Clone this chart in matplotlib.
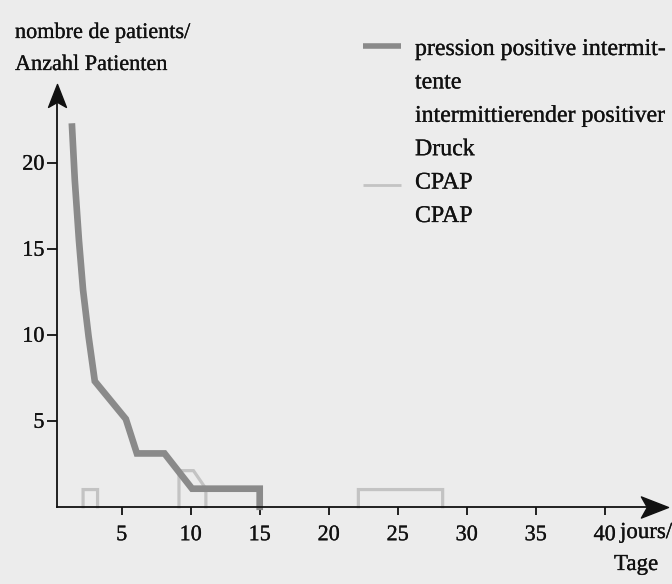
import numpy as np
import matplotlib
matplotlib.use("Agg")
import matplotlib.pyplot as plt
from matplotlib.path import Path
import matplotlib.patheffects as pe

# data
ippv_days = [1.4, 1.6, 1.9, 2.2, 2.6, 3.05, 5.3, 6.1, 8.1, 10.1, 15.0, 15.0]
ippv_pat = [22.1, 19.0, 15.5, 12.6, 9.9, 7.3, 5.1, 3.1, 3.1, 1.05, 1.05, 0.0]

cpap_days = [2.2, 2.2, 3.25, 3.25, np.nan, 9.15, 9.15, 10.2, 11.1, 11.1, np.nan, 22.15, 22.15, 28.26, 28.26]
cpap_pat = [0, 1, 1, 0, np.nan, 0, 2.1, 2.1, 1.05, 0, np.nan, 0, 1, 1, 0]

x_ticks = [5, 10, 15, 20, 25, 30, 35, 40]
y_ticks = [5, 10, 15, 20]

legend_ippv = ["pression positive intermit-", "tente", "intermittierender positiver", "Druck"]
legend_cpap = ["CPAP", "CPAP"]

plt.rcParams["font.family"] = ["Liberation Serif", "DejaVu Serif"]
bg = "#ececec"
ink = "#111111"
thick = [pe.withStroke(linewidth=0.2, foreground=ink)]

fig = plt.figure(figsize=(6.72, 5.84), dpi=100, facecolor=bg)
ax = fig.add_axes([0, 0, 1, 1], facecolor=bg)
ax.set_xlim(-3.82, 44.88)
ax.set_ylim(-4.49, 29.46)

x0, y0 = 0.31, 0.0
x_end, y_end = 44.6, 24.6

for s in ["top", "right"]:
    ax.spines[s].set_visible(False)
ax.spines["left"].set_position(("data", x0))
ax.spines["bottom"].set_position(("data", y0))
ax.spines["left"].set_bounds(y0, y_end - 1.2)
ax.spines["bottom"].set_bounds(x0, x_end - 1.2)
for s in ["left", "bottom"]:
    ax.spines[s].set_linewidth(1.3)
    ax.spines[s].set_color(ink)
    ax.spines[s].set_zorder(3)

# arrow heads (stealth shape)
head_r = Path([(0, 0), (-1, 0.39), (-0.78, 0), (-1, -0.39), (0, 0)],
              [Path.MOVETO, Path.LINETO, Path.LINETO, Path.LINETO, Path.CLOSEPOLY])
head_u = Path([(0, 0), (0.39, -1), (0, -0.78), (-0.39, -1), (0, 0)],
              [Path.MOVETO, Path.LINETO, Path.LINETO, Path.LINETO, Path.CLOSEPOLY])
ax.plot([x_end], [y0], marker=head_r, markersize=39, color=ink, zorder=4, clip_on=False)
ax.plot([x0], [y_end], marker=head_u, markersize=33, color=ink, zorder=4, clip_on=False)

ax.set_xticks(x_ticks)
ax.set_yticks(y_ticks)
ax.tick_params(axis="x", direction="out", length=6, width=1.3, pad=8, labelsize=16, colors=ink)
ax.tick_params(axis="y", direction="out", length=7, width=1.3, pad=2, labelsize=16, colors=ink)
for lab in ax.get_xticklabels() + ax.get_yticklabels():
    lab.set_path_effects(thick)

# series
ax.plot(cpap_days, cpap_pat, color="#c3c3c3", lw=2.3, solid_joinstyle="miter", zorder=2)
ax.plot(ippv_days, ippv_pat, color="#8a8a8a", lw=4.8, solid_joinstyle="miter", zorder=2.5)

# axis titles
ax.text(15 / 672, 1 - 38 / 584, "nombre de patients/", transform=ax.transAxes,
        fontsize=16, va="baseline", ha="left", color=ink, path_effects=thick)
ax.text(15 / 672, 1 - 70 / 584, "Anzahl Patienten", transform=ax.transAxes,
        fontsize=16, va="baseline", ha="left", color=ink, path_effects=thick)
ax.text(620 / 672, 1 - 538 / 584, "jours/", transform=ax.transAxes,
        fontsize=16.5, va="baseline", ha="left", color=ink, path_effects=thick)
ax.text(658 / 672, 1 - 570 / 584, "Tage", transform=ax.transAxes,
        fontsize=16.5, va="baseline", ha="right", color=ink, path_effects=thick)

# legend drawn by hand
lx0, lx1, tx = 363 / 672, 401 / 672, 415 / 672
base0, step = 55, 33.4
ax.plot([lx0, lx1], [1 - 46 / 584] * 2, transform=ax.transAxes, color="#8a8a8a", lw=4, solid_capstyle="butt")
ax.plot([lx0, lx1], [1 - 185 / 584] * 2, transform=ax.transAxes, color="#c3c3c3", lw=2, solid_capstyle="butt")
for i, line in enumerate(legend_ippv + legend_cpap):
    ax.text(tx, 1 - (base0 + i * step) / 584, line, transform=ax.transAxes,
            fontsize=17.2, va="baseline", ha="left", color=ink, path_effects=thick)

fig.savefig("out.png", dpi=100, facecolor=bg)
